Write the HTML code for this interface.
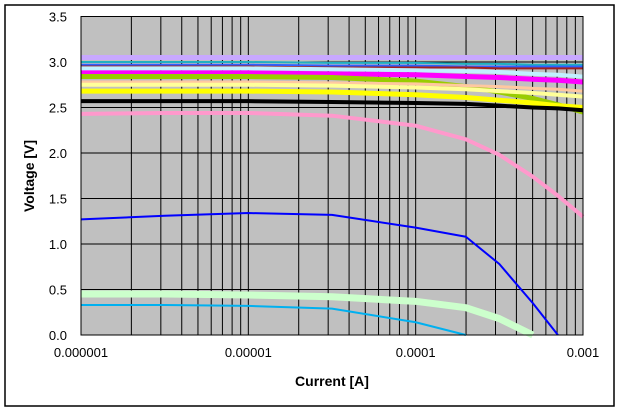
<!DOCTYPE html>
<html><head><meta charset="utf-8"><style>
body{margin:0;background:#fff;}
svg text{font-family:"Liberation Sans",sans-serif;}
</style></head><body>
<svg id="chart" width="621" height="412" xmlns="http://www.w3.org/2000/svg">
<rect x="5" y="5" width="609" height="401" fill="#fff" stroke="#000" stroke-width="1.5"/>
<rect x="81" y="16.5" width="502" height="318.5" fill="#c0c0c0"/>
<g id="grid"></g><g id="series"></g><g id="ticks"></g>
<rect x="81" y="16.5" width="502" height="318.5" fill="none" stroke="#000" stroke-width="1"/>
<text x="332" y="386" font-size="14" font-weight="bold" text-anchor="middle" fill="#000">Current [A]</text>
<text transform="translate(34,176) rotate(-90)" font-size="14" font-weight="bold" text-anchor="middle" fill="#000">Voltage [V]</text>
</svg>
<script>
const xTickLabels=["0.000001","0.00001","0.0001","0.001"];
const yTickLabels=["0.0","0.5","1.0","1.5","2.0","2.5","3.0","3.5"];
const yTickValues=[0,0.5,1,1.5,2,2.5,3,3.5];
const seriesNames=["lavender","teal","blue-dotted","darkred-dotted","lightcyan","magenta","yellowgreen","peach","paleyellow","yellow","black","pink","blue","lightgreen","skyblue"];
const seriesColors=["#c8a8ff","#20b0c0","#3060ff","#a02020","#c0f0ff","#ff00ff","#99cc00","#ffc8a0","#ffff99","#ffff00","#000000","#ff99cc","#0000ff","#ccffcc","#00b0f0"];
const seriesWidths=[5,2,2,2,4,5,5,3,4,5,4,4,2,7,2];
const logI=[-6,-5.5,-5,-4.5,-4,-3.7,-3.5,-3.3,-3.15,-3];
const V_lavender=[3.05,3.05,3.05,3.05,3.05,3.05,3.05,3.05,3.05,3.05];
const V_teal=[3.0,3.0,3.0,2.99,2.99,2.98,2.98,2.97,2.97,2.97];
const V_blue=[2.97,2.97,2.97,2.96,2.96,2.95,2.95,2.95,2.95,2.95];
const V_darkred=[2.95,2.95,2.95,2.94,2.94,2.94,2.93,2.93,2.93,2.93];
const V_lightcyan=[2.93,2.93,2.93,2.92,2.91,2.90,2.89,2.87,2.86,2.84];
const V_magenta=[2.88,2.88,2.88,2.87,2.86,2.84,2.83,2.81,2.80,2.78];
const V_yellowgreen=[2.84,2.84,2.84,2.83,2.79,2.73,2.67,2.60,2.53,2.45];
const V_peach=[2.78,2.78,2.78,2.77,2.76,2.74,2.73,2.71,2.70,2.68];
const V_paleyellow=[2.75,2.75,2.75,2.74,2.72,2.70,2.68,2.66,2.64,2.62];
const V_yellow=[2.68,2.68,2.68,2.67,2.64,2.61,2.58,2.55,2.52,2.50];
const V_black=[2.57,2.57,2.57,2.56,2.55,2.54,2.52,2.50,2.49,2.47];
const V_pink=[2.43,2.44,2.44,2.41,2.30,2.15,1.98,1.74,1.53,1.30];
const V_bluelow=[1.27,1.31,1.34,1.32,1.18,1.08,0.78,0.35,0,0];
const V_lightgreen=[0.45,0.45,0.44,0.42,0.37,0.30,0.18,0,0,0];
const V_skyblue=[0.33,0.33,0.32,0.29,0.14,0,0,0,0,0];
const allSeries=[V_lavender,V_teal,V_blue,V_darkred,V_lightcyan,V_magenta,V_yellowgreen,V_peach,V_paleyellow,V_yellow,V_black,V_pink,V_bluelow,V_lightgreen,V_skyblue];

const L=81,R=583,T=16.5,B=335;
const xS=l=>L+(l+6)/3*(R-L);
const yS=v=>B-v/3.5*(B-T);
const NS="http://www.w3.org/2000/svg";
function mk(tag,attrs,parent){const e=document.createElementNS(NS,tag);for(const k in attrs)e.setAttribute(k,attrs[k]);parent.appendChild(e);return e;}
const grid=document.getElementById('grid'),ticks=document.getElementById('ticks'),ser=document.getElementById('series');
for(let d=-6;d<-3;d++){for(let m=1;m<=9;m++){const x=xS(d+Math.log10(m));
const ln=mk('line',{x1:x,x2:x,y1:T,y2:B,stroke:'#000','stroke-width':1},grid);

}}
yTickValues.forEach((v,i)=>{const y=yS(v);
const ln=mk('line',{x1:L,x2:R,y1:y,y2:y,stroke:'#000','stroke-width':1},grid);


const t=mk('text',{x:L-14,y:y+5,'font-size':13,'text-anchor':'end',fill:'#000'},ticks);t.textContent=yTickLabels[i];

});
xTickLabels.forEach((s,i)=>{const x=xS(-6+i);
const t=mk('text',{x:x,y:357,'font-size':13,'text-anchor':'middle',fill:'#000'},ticks);t.textContent=s;

});
allSeries.forEach((vals,si)=>{let pts=[];for(let i=0;i<logI.length;i++){pts.push(xS(logI[i])+','+yS(vals[i]));if(vals[i]<=0)break;}
const p=mk('polyline',{points:pts.join(' '),fill:'none',stroke:seriesColors[si],'stroke-width':seriesWidths[si],'stroke-linejoin':'round'},ser);

});
</script>
</body></html>
